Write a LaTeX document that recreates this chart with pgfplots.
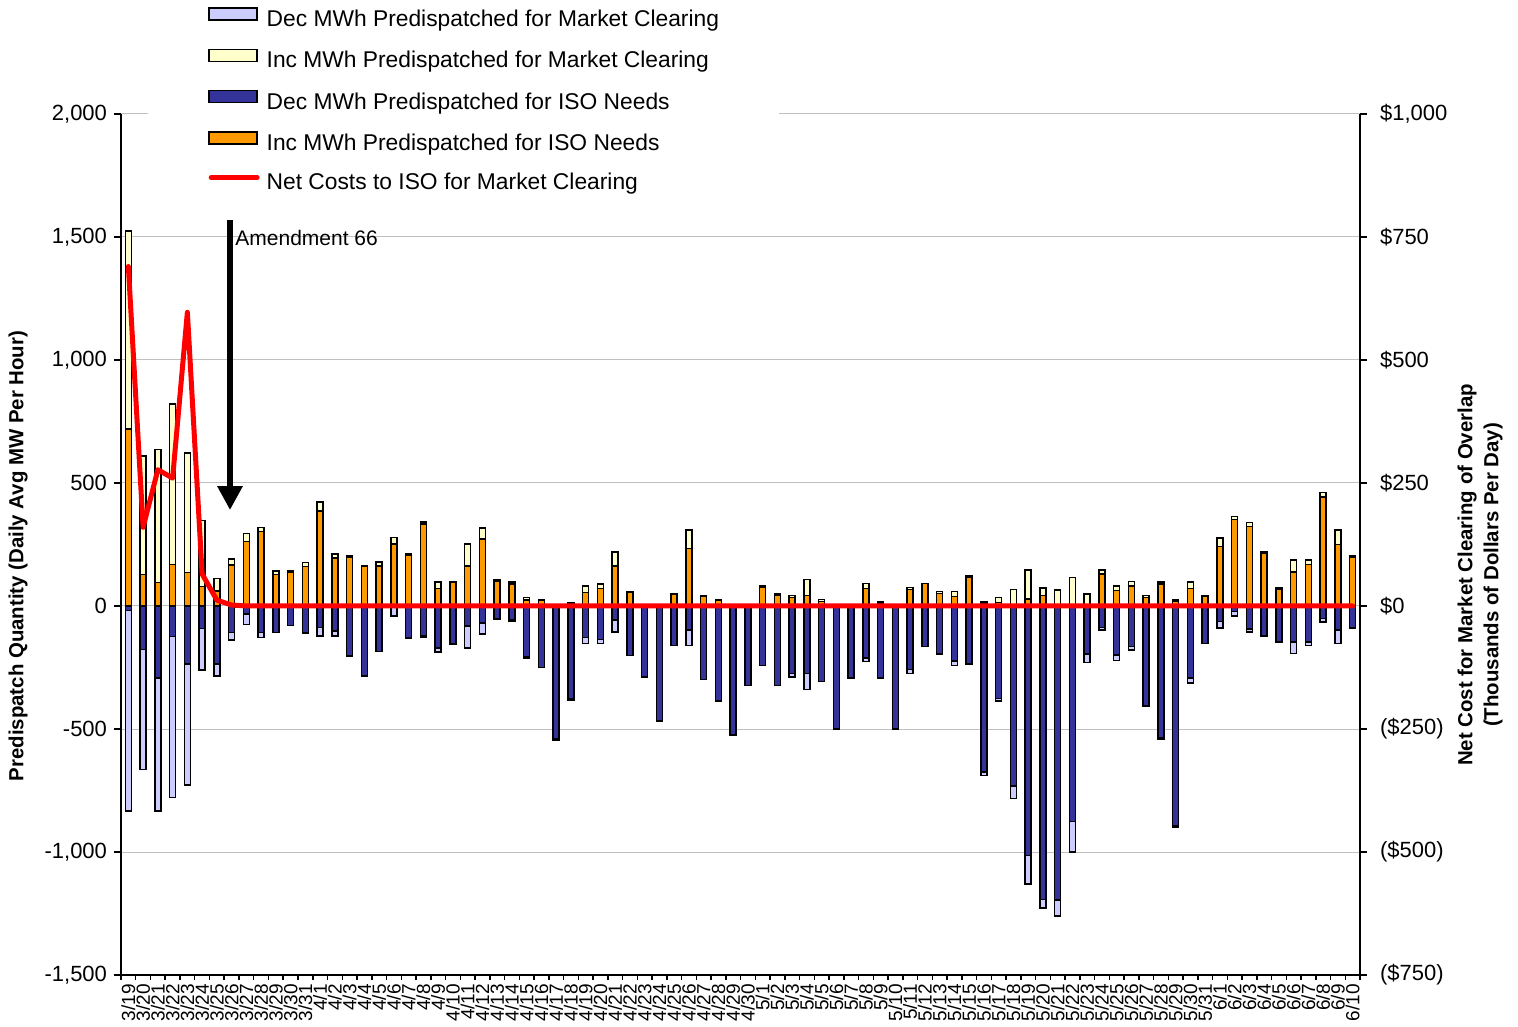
\documentclass[border=0pt]{standalone}
\usepackage{pgfplots}
\pgfplotsset{compat=1.18}
\usepackage{pgfplotstable}
\usepackage{fontspec}
\setmainfont{Liberation Sans}
\usetikzlibrary{arrows.meta}
\definecolor{lav}{HTML}{CCCCFF}
\definecolor{lyel}{HTML}{FFFFCC}
\definecolor{dblue}{HTML}{333399}
\definecolor{orng}{HTML}{FF9900}
\definecolor{gridgray}{HTML}{C0C0C0}

\pgfplotstableread{
k incISO incMC decISO decMC cost
0 719 806 -19 -815 690
1 128 482 -176 -488 160
2 96 541 -292 -542 277
3 168 654 -123 -655 260
4 137 484 -236 -492 597
5 80 267 -91 -169 65
6 61 51 -236 -48 12
7 166 26 -107 -32 2
8 263 32 -32 -43 0
9 303 16 -107 -21 0
10 128 14 -107 0 0
11 136 6 -80 0 0
12 160 16 -110 0 0
13 387 36 -87 -34 0
14 195 17 -101 -20 0
15 200 4 -202 -4 0
16 160 4 -282 -4 0
17 163 16 -184 0 0
18 253 25 -3 -37 0
19 205 6 -128 -3 0
20 333 8 -121 -4 0
21 71 27 -171 -16 0
22 98 0 -155 0 0
23 163 90 -81 -90 0
24 273 44 -70 -44 0
25 100 5 -50 -3 0
26 90 7 -56 -4 0
27 25 9 -208 -4 0
28 22 4 -251 0 0
29 3 0 -540 -4 0
30 12 0 -379 -4 0
31 55 27 -129 -24 0
32 71 19 -137 -16 0
33 163 56 -56 -50 0
34 55 3 -202 0 0
35 0 0 -289 0 0
36 0 0 -468 0 0
37 48 3 -161 0 0
38 233 76 -97 -64 0
39 40 2 -298 0 0
40 22 4 -387 0 0
41 0 0 -524 0 0
42 0 0 -323 0 0
43 78 5 -241 0 0
44 45 6 -323 0 0
45 35 7 -274 -15 0
46 42 66 -274 -65 0
47 18 8 -306 0 0
48 0 0 -500 0 0
49 0 0 -292 0 0
50 71 20 -211 -15 0
51 12 5 -292 0 0
52 0 0 -500 0 0
53 68 7 -258 -16 0
54 91 0 -164 0 0
55 50 8 -195 0 0
56 38 20 -224 -18 0
57 118 6 -235 0 0
58 12 5 -675 -15 0
59 14 20 -376 -11 0
60 5 62 -731 -52 0
61 29 118 -1015 -115 0
62 42 32 -1193 -35 0
63 0 66 -1196 -64 0
64 0 115 -875 -125 0
65 0 49 -196 -34 0
66 130 17 -87 -11 0
67 64 17 -199 -22 0
68 81 18 -164 -15 0
69 35 7 -406 0 0
70 90 8 -537 -3 0
71 20 5 -895 -4 0
72 71 27 -292 -22 0
73 40 2 -153 0 0
74 242 35 -63 -27 0
75 352 12 -23 -17 0
76 323 17 -94 -12 0
77 213 6 -121 0 0
78 68 6 -146 0 0
79 138 49 -146 -48 0
80 169 18 -146 -15 0
81 444 18 -50 -16 0
82 250 59 -97 -56 0
83 200 4 -90 0 0
}\data

\begin{document}
\begin{tikzpicture}
\begin{axis}[
  scale only axis, width=619.5bp, height=430.5bp,
  clip=false,
  xmin=-0.5, xmax=83.5, ymin=-1500, ymax=2000,
  axis x line*=bottom, axis y line*=left,
  axis line style={-, line width=0.75bp, black},
  /pgf/number format/assume math mode=true,
  ytick={-1500,-1000,...,2000},
  yticklabels={{-1,500},{-1,000},-500,0,500,{1,000},{1,500},{2,000}},
  yticklabel style={font=\fontsize{11bp}{13bp}\selectfont},
  ymajorgrids, grid style={line width=0.5bp, color=gridgray},
  tick align=outside, major tick length=3.5bp,
  tick style={black, line width=0.75bp},
  xtick={0,...,83},
  xticklabels={3/19,3/20,3/21,3/22,3/23,3/24,3/25,3/26,3/27,3/28,3/29,3/30,3/31,
    4/1,4/2,4/3,4/4,4/5,4/6,4/7,4/8,4/9,4/10,4/11,4/12,4/13,4/14,4/15,4/16,4/17,4/18,4/19,4/20,4/21,4/22,4/23,4/24,4/25,4/26,4/27,4/28,4/29,4/30,
    5/1,5/2,5/3,5/4,5/5,5/6,5/7,5/8,5/9,5/10,5/11,5/12,5/13,5/14,5/15,5/16,5/17,5/18,5/19,5/20,5/21,5/22,5/23,5/24,5/25,5/26,5/27,5/28,5/29,5/30,5/31,
    6/1,6/2,6/3,6/4,6/5,6/6,6/7,6/8,6/9,6/10},
  x tick label style={rotate=90, anchor=east, font=\fontsize{9.5bp}{10bp}\selectfont, inner sep=1bp},
  major x tick style={draw=none},
  minor xtick={-0.5,0.5,...,83.5},
  minor tick length=2.5bp,
  minor x tick style={black, line width=0.75bp},
  ylabel={\bfseries Predispatch Quantity (Daily Avg MW Per Hour)},
  ylabel style={at={(axis description cs:-0.0831,0.4866)}, anchor=center, font=\fontsize{10.2bp}{12bp}\selectfont},
  legend cell align=left,
  legend style={at={(axis description cs:0.0218,1.1324)}, anchor=north west,
    draw=none, fill=white, inner xsep=30bp, inner ysep=3.5bp, row sep=8.5bp,
    font=\fontsize{11.4bp}{13bp}\selectfont,
    nodes={inner sep=0pt, text height=8bp, text depth=2.5bp},
    /tikz/every odd column/.append style={column sep=3.5bp}},
]
\addplot[ybar, bar width=2.9bp, bar shift=0pt, fill=lav, draw=black, line width=0.75bp,
  legend image code/.code={\draw[fill=lav, draw=black, line width=0.75bp] (0bp,0.5bp) rectangle (24bp,6.5bp);}]
  table[x=k, y expr=\thisrow{decISO}+\thisrow{decMC}] {\data};
\addlegendentry{Dec MWh Predispatched for Market Clearing}
\addplot[ybar, bar width=2.9bp, bar shift=0pt, fill=lyel, draw=black, line width=0.75bp,
  legend image code/.code={\draw[fill=lyel, draw=black, line width=0.75bp] (0bp,0.5bp) rectangle (24bp,6.5bp);}]
  table[x=k, y expr=\thisrow{incISO}+\thisrow{incMC}] {\data};
\addlegendentry{Inc MWh Predispatched for Market Clearing}
\addplot[ybar, bar width=2.9bp, bar shift=0pt, fill=dblue, draw=black, line width=0.75bp,
  legend image code/.code={\draw[fill=dblue, draw=black, line width=0.75bp] (0bp,0.5bp) rectangle (24bp,6.5bp);}]
  table[x=k, y=decISO] {\data};
\addlegendentry{Dec MWh Predispatched for ISO Needs}
\addplot[ybar, bar width=2.9bp, bar shift=0pt, fill=orng, draw=black, line width=0.75bp,
  legend image code/.code={\draw[fill=orng, draw=black, line width=0.75bp] (0bp,0.5bp) rectangle (24bp,6.5bp);}]
  table[x=k, y=incISO] {\data};
\addlegendentry{Inc MWh Predispatched for ISO Needs}
\addlegendimage{legend image code/.code={\path[draw=none, fill=none] (0bp,-1bp) rectangle (1bp,6bp); \draw[red, line width=2.5bp, line cap=round] (1bp,3.5bp) -- (24bp,3.5bp);}}
\addlegendentry{Net Costs to ISO for Market Clearing}
\draw[line width=3bp, -{Triangle[width=12bp, length=12bp]}] (axis cs:6.89,1569) -- (axis cs:6.89,390);
\node[anchor=west, inner sep=0pt, font=\fontsize{10.5bp}{12bp}\selectfont] at (axis cs:7.23,1496) {Amendment 66};
\node[rotate=90, align=center, font=\fontsize{10.2bp}{13bp}\selectfont\bfseries] at (axis description cs:1.0969,0.4646) {Net Cost for Market Clearing of Overlap\\(Thousands of Dollars Per Day)};
\end{axis}
\begin{axis}[
  scale only axis, width=619.5bp, height=430.5bp,
  xmin=-0.5, xmax=83.5, ymin=-750, ymax=1000,
  axis x line=none, xtick=\empty,
  axis y line*=right,
  axis line style={-, line width=0.75bp, black},
  ytick={-750,-500,...,1000},
  yticklabels={{(\$750)},{(\$500)},{(\$250)},{\$0},{\$250},{\$500},{\$750},{\$1,000}},
  yticklabel style={font=\fontsize{11bp}{13bp}\selectfont, xshift=3bp},
  tick align=outside, major tick length=3.5bp,
  tick style={black, line width=0.75bp},
]
\addplot[red, line width=2.5bp, line join=round, line cap=round, mark=none] table[x=k, y=cost] {\data};
\end{axis}
\pgfresetboundingbox
\path (-60.5bp,-26bp) rectangle (698.5bp,487.5bp);
\end{tikzpicture}
\end{document}
